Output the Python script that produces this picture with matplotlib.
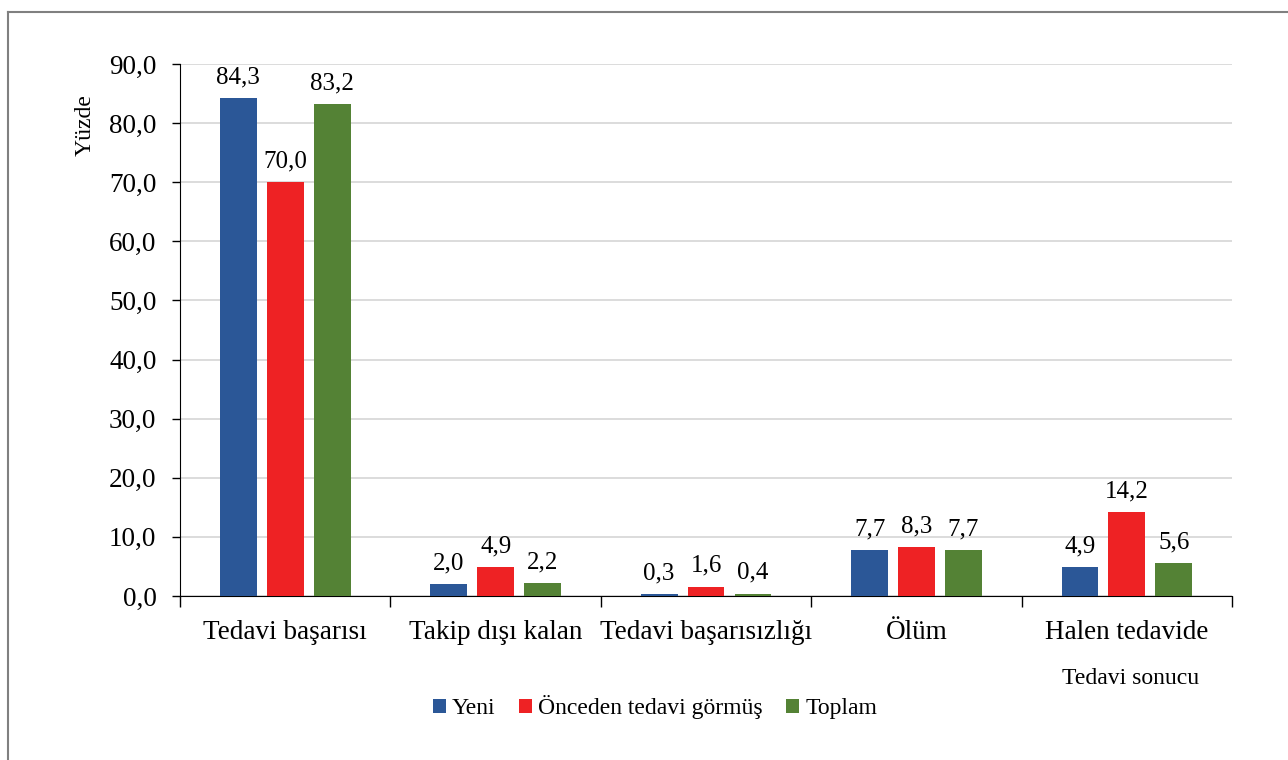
import matplotlib.pyplot as plt
import numpy as np
from matplotlib.lines import Line2D

plt.rcParams['font.family'] = ['Liberation Serif', 'DejaVu Serif']

kategoriler = ["Tedavi başarısı", "Takip dışı kalan", "Tedavi başarısızlığı", "Ölüm", "Halen tedavide"]
yeni = [84.3, 2.0, 0.3, 7.7, 4.9]
onceden = [70.0, 4.9, 1.6, 8.3, 14.2]
toplam = [83.2, 2.2, 0.4, 7.7, 5.6]
seriler = ["Yeni", "Önceden tedavi görmüş", "Toplam"]
renkler = ["#2B5797", "#EE2224", "#548235"]

fig = plt.figure(figsize=(12.88, 7.6), dpi=100)
ax = fig.add_axes([0.1398, 0.2158, 0.8168, 0.7])

x = np.arange(len(kategoriler))
w = 0.175
off = 0.223
for vals, dx, c, ad in zip([yeni, onceden, toplam], [-off, 0, off], renkler, seriler):
    bars = ax.bar(x + dx, vals, w, color=c, label=ad, zorder=3)
    for b, v in zip(bars, vals):
        ax.annotate(f"{v:.1f}".replace(".", ","), (b.get_x() + b.get_width() / 2, v),
                    xytext=(0, 7), textcoords="offset points", ha="center", va="bottom",
                    fontsize=18)

ax.set_xlim(-0.5, 4.5)
ax.set_ylim(0, 90)
ax.set_yticks(np.arange(0, 91, 10))
ax.set_yticklabels([f"{v:.1f}".replace(".", ",") for v in np.arange(0, 91, 10)], fontsize=19.5)
ax.yaxis.grid(True, color="#D9D9D9", linewidth=1.3, zorder=0)
ax.set_xticks(x)
ax.set_xticklabels(kategoriler, fontsize=19.5)
ax.tick_params(axis="x", which="major", length=0, pad=17)
ax.set_xticks(np.arange(-0.5, 5, 1), minor=True)
ax.tick_params(axis="x", which="minor", length=8, width=1, direction="out")
ax.tick_params(axis="y", length=6, width=1, pad=11)
for s in ["top", "right"]:
    ax.spines[s].set_visible(False)

fig.text(85 / 1288, 1 - 125 / 760, "Yüzde", rotation=90, ha="center", va="center", fontsize=17)
fig.text(1131 / 1288, 1 - 679 / 760, "Tedavi sonucu", ha="center", va="center", fontsize=17)

h, l = ax.get_legend_handles_labels()
fig.legend(h, l, loc="center", bbox_to_anchor=(655 / 1288, 1 - 707 / 760), ncol=3, frameon=False,
           fontsize=17, handlelength=0.55, handleheight=0.55, handletextpad=0.25, columnspacing=1.0)

fig.add_artist(Line2D([8 / 1288, 1], [1 - 12 / 760, 1 - 12 / 760], color="#808080", linewidth=1.5))
fig.add_artist(Line2D([8 / 1288, 8 / 1288], [0, 1 - 12 / 760], color="#808080", linewidth=1.5))

fig.savefig("out.png", dpi=100)
